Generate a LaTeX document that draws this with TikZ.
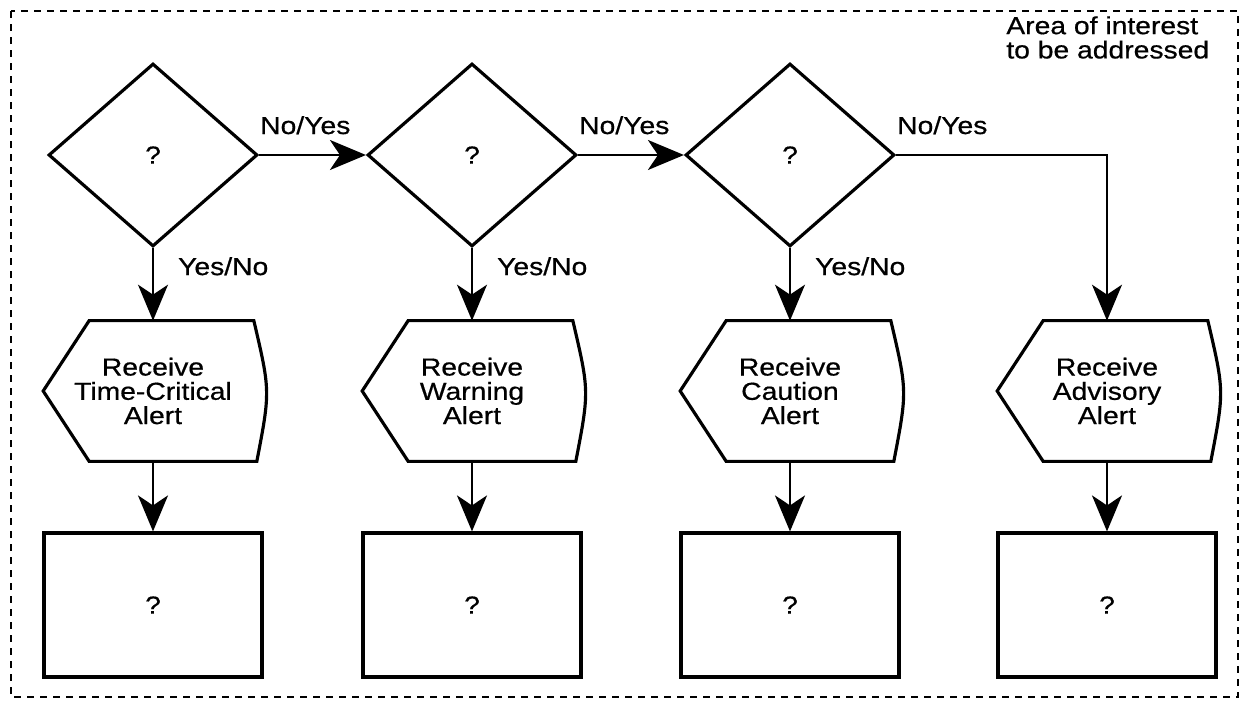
\documentclass[tikz,border=0pt]{standalone}
\usepackage{fontspec}
\setmainfont{Liberation Sans}[FakeStretch=1.15, FakeBold=0.6]
\usetikzlibrary{shapes.geometric,arrows.meta}

\tikzset{
  decision/.style={draw, diamond, line width=1.8pt, minimum width=4.18cm, minimum height=3.66cm, inner sep=0pt},
  receive/.style={minimum width=4.38cm, minimum height=2.8cm, inner sep=0pt, align=center},
  box/.style={draw, line width=1.8pt, minimum width=4.36cm, minimum height=2.88cm, inner sep=0pt},
  flow/.style={line width=1.3pt, -{Stealth[length=0.72cm, width=0.6cm, inset=0.2cm]}},
  lbl/.style={inner sep=0pt}
}

\begin{document}
\begin{tikzpicture}[x=0.02cm, y=-0.02cm, font=\fontsize{14}{13.8}\selectfont]
  \useasboundingbox (0,0) rectangle (1249,703);
  \draw [line width=1.3pt, dash pattern=on 4pt off 3.4pt] (11,11) rectangle (1238,697);
  \node [lbl, anchor=north west, align=left] (area) at (1006,16) {Area of interest\\to be addressed};
  % decisions
  \node [decision] (dec1) at (153,155) {?};
  \node [decision] (dec2) at (472,155) {?};
  \node [decision] (dec3) at (790,155) {?};
  % receive alerts
  \node [receive] (rcv1) at (153,391) {Receive\\Time-Critical\\Alert};
  \node [receive] (rcv2) at (472,391) {Receive\\Warning\\Alert};
  \node [receive] (rcv3) at (790,391) {Receive\\Caution\\Alert};
  \node [receive] (rcv4) at (1107,391) {Receive\\Advisory\\Alert};
  \foreach \n in {1,...,4}
    \draw [line width=1.8pt] (rcv\n.west) -- ([xshift=0.92cm]rcv\n.north west)
      -- ([xshift=-0.18cm]rcv\n.north east) .. controls ([xshift=0.15cm]rcv\n.east) .. ([xshift=-0.12cm]rcv\n.south east)
      -- ([xshift=0.92cm]rcv\n.south west) -- cycle;
  % responses
  \node [box] (resp1) at (153,605) {?};
  \node [box] (resp2) at (472,605) {?};
  \node [box] (resp3) at (790,605) {?};
  \node [box] (resp4) at (1107,605) {?};
  % connectors
  \draw [flow] (dec1.east) node [lbl, anchor=base west, yshift=0.42cm] (no1) {No/Yes} -- (dec2.west);
  \draw [flow] (dec2.east) node [lbl, anchor=base west, yshift=0.42cm] (no2) {No/Yes} -- (dec3.west);
  \draw [flow] (dec3.east) node [lbl, anchor=base west, yshift=0.42cm] (no3) {No/Yes} -| (rcv4.north);
  \foreach \n in {1,2,3}
    \draw [flow] (dec\n.south) node [lbl, anchor=base west, xshift=0.48cm, yshift=-0.54cm] (yes\n) {Yes/No} -- (rcv\n.north);
  \foreach \n in {1,...,4}
    \draw [flow] (rcv\n.south) -- (resp\n.north);
\end{tikzpicture}
\end{document}
